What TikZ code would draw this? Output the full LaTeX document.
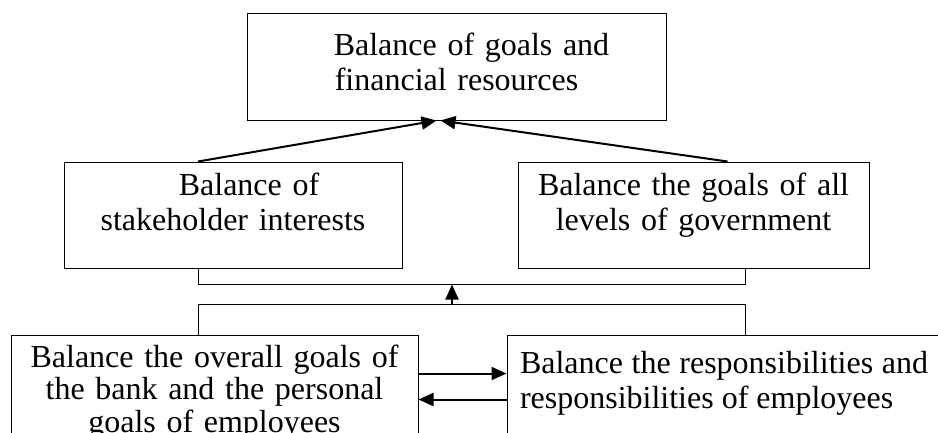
\documentclass[tikz,border=0pt]{standalone}
\usepackage{fontspec}
\setmainfont{Liberation Serif}
\usetikzlibrary{arrows.meta,calc}

\tikzset{
  box/.style={draw, line width=1pt, align=center, inner sep=0pt, anchor=base,
    font=\fontsize{32}{35}\selectfont},
  arr/.style={-{Triangle[length=15pt,width=13pt]}, line width=2pt},
  link/.style={line width=1pt}
}

\begin{document}
\begin{tikzpicture}[x=1pt,y=-1pt]

  \useasboundingbox (0,0) rectangle (938,432);
  \clip (0,0) rectangle (938,432);

  \node[box, text width=419pt, text height=42pt, text depth=65pt] (goals) at (456.5,55)
    {\hspace*{30pt}Balance of goals and\\financial resources};

  \node[box, text width=338pt, text height=33pt, text depth=73pt] (stake) at (233,195)
    {\hspace*{32pt}Balance of\\stakeholder interests};
  \node[box, text width=351pt, text height=33pt, text depth=73pt] (gov) at (693.5,195)
    {Balance the goals of all\\levels of government};

  \node[box, text width=407pt, text height=32pt, text depth=110pt,
    font=\fontsize{32}{32.5}\selectfont] (bank) at (214.5,367)
    {Balance the overall goals of\\the bank and the personal\\goals of employees};
  \node[box, align=justify, inner xsep=13pt, text width=408pt, text height=38pt,
    text depth=110pt] (duty) at (724,373)
    {\hyphenpenalty=10000 Balance the responsibilities and responsibilities of employees};

  \coordinate (lx) at (198,300);
  \coordinate (rx) at (745,300);
  \coordinate (upbar) at (452,284.5);
  \coordinate (lowbar) at (452,304.5);
  \coordinate (hto) at ($(bank.north east)+(0,39)$);
  \coordinate (hback) at ($(bank.north east)+(0,65)$);

  % into the top box
  \draw[arr] (stake.north -| lx) -- ($(goals.south west)+(190,0)$);
  \draw[arr] ($(gov.north west)+(210,0)$) -- ($(goals.south west)+(194,0)$);

  % brackets
  \draw[link] (stake.south -| lx) |- (upbar) -| (gov.south -| rx);
  \draw[link] (bank.north -| lx) |- (lowbar) -| (duty.north -| rx);
  \draw[arr] (lowbar) -- (upbar);

  \draw[arr] (hto) -- (hto -| duty.west);
  \draw[arr] (hback -| duty.west) -- (hback);

\end{tikzpicture}
\end{document}
